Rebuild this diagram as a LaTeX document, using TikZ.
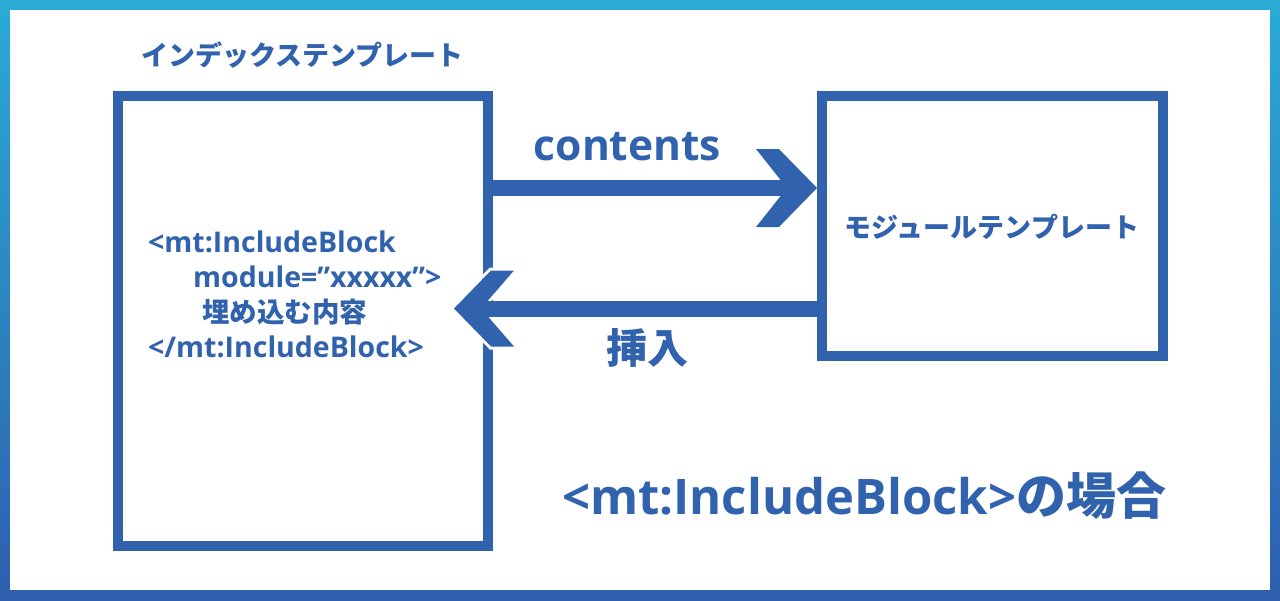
\documentclass[tikz,border=0pt]{standalone}
\usepackage{fontspec}
\setmainfont{Open Sans}
\newfontfamily\jp{Noto Sans CJK JP}
\usetikzlibrary{calc}
\definecolor{mtblue}{HTML}{3062AD}
\definecolor{frametop}{HTML}{2AABD5}
\definecolor{framebot}{HTML}{2E5FAE}
\tikzset{
  frame/.style={draw=mtblue, line width=10pt, inner sep=0pt},
  lbl/.style={text=mtblue, inner sep=0pt},
  shaft/.style={draw=mtblue, line width=16pt},
  chevron/.style={fill=mtblue},
  halo/.style={draw=white, line width=6pt, line join=miter},
  jpfont/.style={font=\jp\bfseries\fontsize{#1}{#1}\selectfont},
  lafont/.style={font=\bfseries\fontsize{#1}{#1}\selectfont}
}
\begin{document}
\begin{tikzpicture}[x=1pt,y=-1pt]
\useasboundingbox (0,0) rectangle (1280,600);
\shade[top color=frametop, bottom color=framebot] (0,0) rectangle (1280,600);
\fill[white] (10,10) rectangle (1270,590);

% boxes
\node[frame, minimum width=370pt, minimum height=450pt] (L) at (303,321) {};
\node[frame, minimum width=341pt, minimum height=260pt] (R) at (992.5,226) {};

% titles
\node[lbl, jpfont=27] (tL) at (302.5,55) {インデックステンプレート};
\node[lbl, jpfont=27] (tR) at (992,227) {モジュールテンプレート};

% top arrow: contents
\coordinate (y1) at (0,188);
\coordinate (tip1) at (R.west |- y1);
\draw[shaft] (L.east |- y1) -- ($(tip1)+(-28,0)$);
\fill[chevron] (tip1) -- ++(-38,-39) -- ++(-23,0) -- ($(tip1)+(-30,0)$) -- ++(-31,39) -- ++(23,0) -- cycle;
\node[lbl, lafont=42.5, anchor=base] (cont) at (627.5,160) {contents};

% bottom arrow: insert
\coordinate (y2) at (0,308.5);
\coordinate (tip2) at (454,308.5);
\path[halo] (tip2) -- ++(37,-38) -- ++(23,0) -- ($(tip2)+(27,0)$) -- ++(33,38) -- ++(-23,0) -- cycle;
\fill[chevron] (tip2) -- ++(37,-38) -- ++(23,0) -- ($(tip2)+(27,0)$) -- ++(33,38) -- ++(-23,0) -- cycle;
\draw[shaft] (R.west |- y2) -- ($(tip2)+(25,0)$);
\node[lbl, jpfont=41, anchor=west] (ins) at (606,348) {挿入};

% code inside left box
\node[lbl, lafont=28.5, anchor=base west] (c1) at (148,252) {<mt:IncludeBlock};
\node[lbl, lafont=28.5, anchor=base west] (c2) at (193,287) {module=”xxxxx”>};
\node[lbl, jpfont=27.5, anchor=west] (c3) at (202,312) {埋め込む内容};
\node[lbl, lafont=28.5, anchor=base west] (c4) at (148,357) {</mt:IncludeBlock>};

% caption
\node[lbl, lafont=49, anchor=base west] (cap) at (562,514) {<mt:IncludeBlock>{\jp\bfseries\fontsize{50}{50}\selectfont の場合}};
\end{tikzpicture}
\end{document}
